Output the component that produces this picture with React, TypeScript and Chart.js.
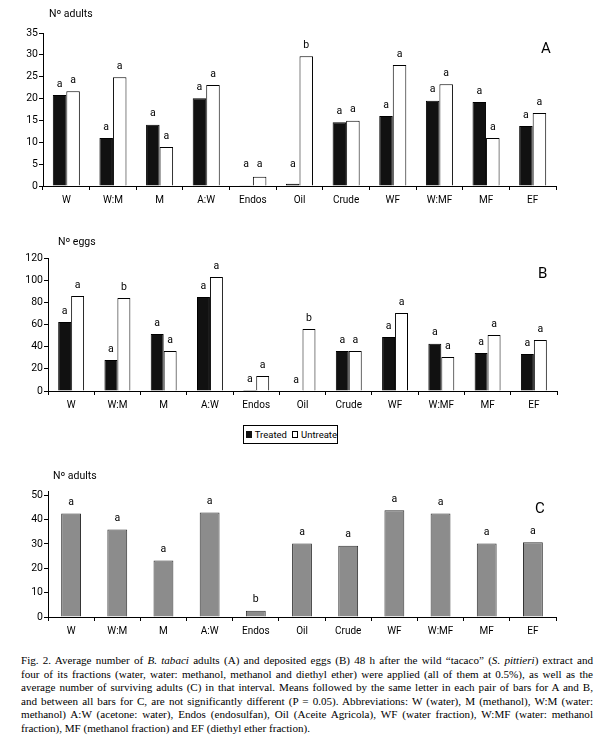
import React, { useEffect, useRef } from 'react';
import { Chart, registerables } from 'chart.js';

Chart.register(...registerables);

const categories = ['W', 'W:M', 'M', 'A:W', 'Endos', 'Oil', 'Crude', 'WF', 'W:MF', 'MF', 'EF'];

const adultsTreated = [20.8, 11.0, 14.0, 20.1, 0.2, 0.5, 14.6, 16.0, 19.5, 19.2, 13.7];
const adultsUntreated = [21.7, 24.9, 8.9, 23.1, 2.1, 29.7, 14.9, 27.7, 23.3, 11.0, 16.7];
const adultsTreatedLetters = ['a', 'a', 'a', 'a', 'a', 'a', 'a', 'a', 'a', 'a', 'a'];
const adultsUntreatedLetters = ['a', 'a', 'a', 'a', 'a', 'b', 'a', 'a', 'a', 'a', 'a'];

const eggsTreated = [62.3, 28.0, 51.4, 84.8, 0.9, 0, 36.1, 48.7, 42.7, 34.3, 33.4];
const eggsUntreated = [85.7, 83.9, 36.1, 102.9, 13.5, 55.9, 36.1, 70.4, 30.7, 50.5, 46.0];
const eggsTreatedLetters = ['a', 'a', 'a', 'a', 'a', 'a', 'a', 'a', 'a', 'a', 'a'];
const eggsUntreatedLetters = ['a', 'b', 'a', 'a', 'a', 'b', 'a', 'a', 'a', 'a', 'a'];

const survivors = [42.5, 35.9, 23.2, 42.9, 2.6, 30.2, 29.3, 43.8, 42.5, 30.2, 30.7];
const survivorLetters = ['a', 'a', 'a', 'a', 'b', 'a', 'a', 'a', 'a', 'a', 'a'];

const captionLines = [
  'Fig. 2. Average number of <i>B. tabaci</i> adults (A) and deposited eggs (B) 48 h after the wild \u201ctacaco\u201d (<i>S. pittieri</i>) extract and',
  'four of its fractions (water, water: methanol, methanol and diethyl ether) were applied (all of them at 0.5%), as well as the',
  'average number of surviving adults (C) in that interval. Means followed by the same letter in each pair of bars for A and B,',
  'and between all bars for C, are not significantly different (P = 0.05). Abbreviations: W (water), M (methanol), W:M (water:',
  'methanol) A:W (acetone: water), Endos (endosulfan), Oil (Aceite Agricola), WF (water fraction), W:MF (water: methanol',
  'fraction), MF (methanol fraction) and EF (diethyl ether fraction).',
];

const SANS = "Roboto, 'Liberation Sans', sans-serif";

function lettersPlugin(minGap: number) {
  return {
    id: 'barLetters',
    afterDatasetsDraw(chart: any) {
      const ctx = chart.ctx;
      ctx.save();
      ctx.font = `10.5px ${SANS}`;
      ctx.fillStyle = '#000';
      ctx.textAlign = 'center';
      ctx.textBaseline = 'middle';
      const base = chart.chartArea.bottom;
      chart.data.datasets.forEach((ds: any, i: number) => {
        const meta = chart.getDatasetMeta(i);
        meta.data.forEach((el: any, j: number) => {
          const t = ds.letters ? ds.letters[j] : null;
          if (!t) return;
          const y = Math.min(el.y - 11, base - minGap);
          ctx.fillText(t, el.x, y);
        });
      });
      ctx.restore();
    },
  };
}

type PanelProps = {
  top: number;
  height: number;
  areaLeft: number;
  areaRight: number;
  areaTop: number;
  areaBottom: number;
  datasets: any[];
  max: number;
  step: number;
  minGap: number;
  catPct: number;
};

function Panel(p: PanelProps) {
  const ref = useRef<HTMLCanvasElement>(null);
  useEffect(() => {
    if (!ref.current) return;
    const chart = new Chart(ref.current, {
      type: 'bar',
      data: { labels: categories, datasets: p.datasets },
      options: {
        responsive: false,
        animation: false,
        maintainAspectRatio: false,
        layout: { padding: { left: 0, right: 610 - p.areaRight, top: p.areaTop, bottom: 0 } },
        plugins: { legend: { display: false }, tooltip: { enabled: false } },
        datasets: { bar: { categoryPercentage: p.catPct, barPercentage: 1 } },
        scales: {
          x: {
            grid: { display: true, offset: true, drawOnChartArea: false, tickLength: 4, color: '#000', lineWidth: 1 },
            border: { display: true, color: '#000', width: 1 },
            ticks: { color: '#000', font: { family: SANS, size: 10 }, padding: 4, maxRotation: 0, autoSkip: false },
            afterFit: (s: any) => { s.height = p.height - p.areaBottom; },
          },
          y: {
            min: 0,
            max: p.max,
            grid: { display: true, drawOnChartArea: false, tickLength: 4, color: '#000', lineWidth: 1 },
            border: { display: true, color: '#000', width: 1 },
            ticks: { stepSize: p.step, includeBounds: false, color: '#000', font: { family: SANS, size: 10.5 }, padding: 1 },
            afterBuildTicks: (s: any) => { s.ticks = s.ticks.filter((t: any) => Math.abs(t.value / p.step - Math.round(t.value / p.step)) < 1e-6); },
            afterFit: (s: any) => { s.width = p.areaLeft; },
          },
        },
      },
      plugins: [lettersPlugin(p.minGap)],
    } as any);
    return () => chart.destroy();
  }, []);
  return (
    <canvas
      ref={ref}
      width={610}
      height={p.height}
      style={{ position: 'absolute', left: 0, top: p.top, width: 610, height: p.height }}
    />
  );
}

const label = (text: string, left: number, top: number, size: number) => (
  <div style={{ position: 'absolute', left, top, fontFamily: SANS, fontSize: size, lineHeight: `${size + 2}px`, color: '#000', whiteSpace: 'nowrap' }}>{text}</div>
);

export default function App() {
  const treatedStyle = { backgroundColor: '#111', borderColor: '#000', borderWidth: 1 };
  const untreatedStyle = { backgroundColor: '#fff', borderColor: '#000', borderWidth: 1 };
  return (
    <div style={{ position: 'absolute', left: 0, top: 0, width: 610, height: 751, background: '#fff', overflow: 'hidden' }}>
      <Panel
        top={0}
        height={215}
        areaLeft={43}
        areaRight={556}
        areaTop={33}
        areaBottom={186}
        max={35}
        step={5}
        minGap={22}
        catPct={0.58}
        datasets={[
          { label: 'Treated', data: adultsTreated, letters: adultsTreatedLetters, ...treatedStyle },
          { label: 'Untreated', data: adultsUntreated, letters: adultsUntreatedLetters, ...untreatedStyle },
        ]}
      />
      {label('N\u00ba adults', 49, 8, 10.5)}
      {label('A', 541, 40, 15)}

      <Panel
        top={215}
        height={200}
        areaLeft={48}
        areaRight={557}
        areaTop={43}
        areaBottom={176}
        max={120}
        step={20}
        minGap={9}
        catPct={0.56}
        datasets={[
          { label: 'Treated', data: eggsTreated, letters: eggsTreatedLetters, ...treatedStyle },
          { label: 'Untreated', data: eggsUntreated, letters: eggsUntreatedLetters, ...untreatedStyle },
        ]}
      />
      {label('N\u00ba eggs', 58, 236, 10.5)}
      {label('B', 538, 265, 15)}

      <div style={{ position: 'absolute', left: 243, top: 425, width: 93, height: 17, border: '1px solid #000', fontFamily: SANS, fontSize: 9.5, color: '#000', display: 'flex', alignItems: 'center', whiteSpace: 'nowrap' }}>
        <div style={{ width: 7, height: 7, background: '#111', marginLeft: 2, marginRight: 3 }} />
        <div>Treated</div>
        <div style={{ width: 5, height: 5, border: '1px solid #000', marginLeft: 5, marginRight: 3 }} />
        <div>Untreate</div>
      </div>

      <Panel
        top={460}
        height={185}
        areaLeft={48}
        areaRight={556}
        areaTop={31}
        areaBottom={157}
        max={51.75}
        step={10}
        minGap={0}
        catPct={0.43}
        datasets={[
          { label: 'Adults', data: survivors, letters: survivorLetters, backgroundColor: '#8c8c8c', borderColor: '#333', borderWidth: 1 },
        ]}
      />
      {label('N\u00ba adults', 53, 470, 10.5)}
      {label('C', 535, 500, 15)}

      <div style={{ position: 'absolute', left: 21, top: 654, width: 572, fontFamily: "'Liberation Serif', 'DejaVu Serif', serif", fontSize: 11.1, color: '#000' }}>
        {captionLines.map((l, i) => (
          <div
            key={i}
            style={{ lineHeight: '13.6px', height: 13.6, textAlign: 'justify', textAlignLast: i < captionLines.length - 1 ? 'justify' : 'left', whiteSpace: 'normal', overflow: 'visible' } as any}
            dangerouslySetInnerHTML={{ __html: l }}
          />
        ))}
      </div>
    </div>
  );
}
